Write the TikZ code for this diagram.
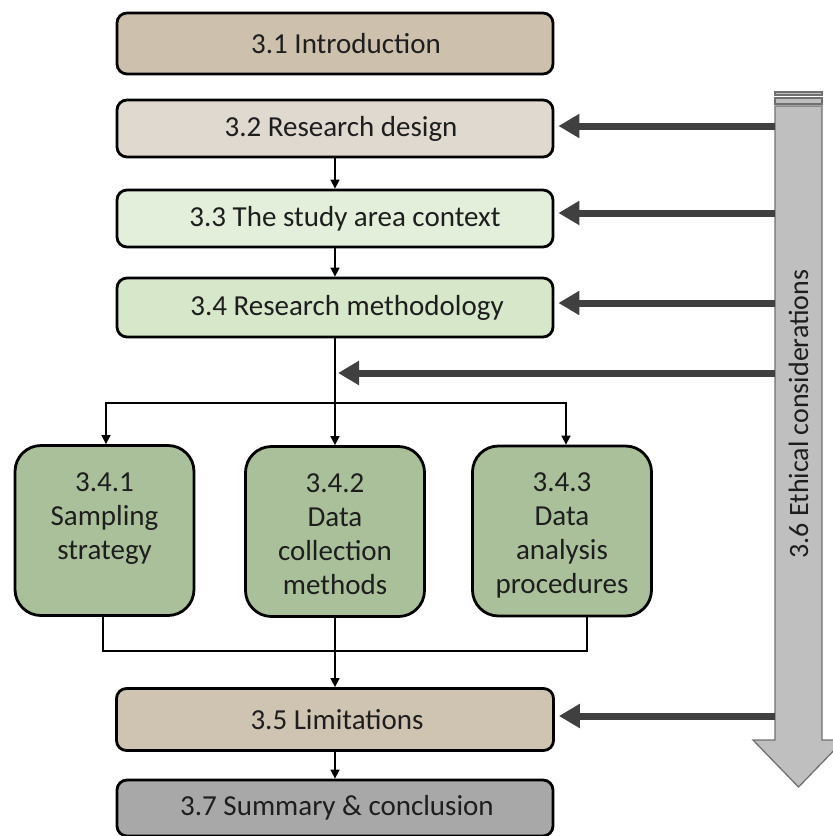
\documentclass[tikz,border=0pt]{standalone}
\usepackage{fontspec}
\setmainfont{Carlito}
\usetikzlibrary{arrows.meta}
\definecolor{introfill}{HTML}{CDC1AE}
\definecolor{designfill}{HTML}{DFD9CF}
\definecolor{areafill}{HTML}{E3EFDA}
\definecolor{methfill}{HTML}{D6E7CA}
\definecolor{sage}{HTML}{A9C09A}
\definecolor{limitfill}{HTML}{CFC4B1}
\definecolor{sumfill}{HTML}{A8A8A8}
\definecolor{bigfill}{HTML}{BFBFBF}
\definecolor{bigdraw}{HTML}{707070}
\definecolor{ethline}{HTML}{404040}
\definecolor{txt}{HTML}{1E1E1E}
\newcommand\strutline[1]{\strut#1}
\newcommand\firstline[1]{\rule{0pt}{34pt}#1}
\begin{document}
\begin{tikzpicture}[x=1pt,y=-1pt,
  box/.style={draw=black, line width=2.8pt, rounded corners=10pt, minimum width=436pt,
    minimum height=58pt, inner sep=0pt, font=\fontsize{29}{34}\selectfont, text=txt},
  sub/.style={box, rounded corners=26pt, minimum width=179pt, minimum height=170pt,
    align=center, fill=sage},
  conn/.style={line width=1.6pt, -{Triangle[length=9pt,width=9pt]}},
  plainline/.style={line width=1.6pt},
  eth/.style={line width=7pt, draw=ethline, -{Triangle[length=21pt,width=23pt]}},
  bigarrow/.style={fill=bigfill, draw=bigdraw, line width=1.3pt}
]
\useasboundingbox (0,0) rectangle (833,836);
\clip (0,0) rectangle (833,836);

% big ethical arrow
\draw[bigarrow] (775,92) rectangle (822,95);
\draw[bigarrow] (775,98) rectangle (822,104);
\draw[bigarrow] (775,106) -- (822,106) -- (822,740) -- (844,740) -- (798.5,787)
  -- (753,740) -- (775,740) -- cycle;
\node[rotate=90, font=\fontsize{28}{34}\selectfont, text=txt] (ethtext) at (798.5,414)
  {3.6 Ethical considerations};

% main boxes
\node[box, fill=introfill, minimum height=61pt] (intro) at (335,43.5) {\hspace*{22pt}3.1 Introduction};
\node[box, fill=designfill, minimum height=57pt] (design) at (335,128.5) {\hspace*{12pt}3.2 Research design};
\node[box, fill=areafill, minimum height=57pt] (area) at (335,218.5) {\hspace*{20pt}3.3 The study area context};
\node[box, fill=methfill, minimum height=59pt] (method) at (335,307.5) {\hspace*{24pt}3.4 Research methodology};

\node[sub] (s1) at (104.5,530.5) {\firstline{3.4.1}\\\strutline{Sampling}\\\strutline{strategy}\\\strutline{}};
\node[sub] (s2) at (335,531.5) {\firstline{3.4.2}\\\strutline{Data}\\\strutline{collection}\\\strutline{methods}};
\node[sub] (s3) at (562,531) {\firstline{3.4.3}\\\strutline{Data}\\\strutline{analysis}\\\strutline{procedures}};

\node[box, fill=limitfill, minimum width=437pt, minimum height=62pt] (limit) at (335,719.5) {\hspace*{4pt}3.5 Limitations};
\node[box, fill=sumfill, minimum height=56pt] (summary) at (335,808) {\hspace*{4pt}3.7 Summary \& conclusion};

% connectors
\draw[conn] (design.south) -- (area.north);
\draw[conn] (area.south) -- (method.north);
\draw[conn] (method.south) -- (s2.north);
\coordinate (br) at (335,403);
\draw[conn] (br) -| ([xshift=1.5pt]s1.north);
\draw[conn] (br) -| ([xshift=4pt]s3.north);
\coordinate (jn) at (335,651);
\draw[plainline] ([xshift=-1.5pt]s1.south) |- ([xshift=25pt]s3.south |- jn) -- ([xshift=25pt]s3.south);
\draw[conn] (s2.south) -- (limit.north);
\draw[conn] (limit.south) -- (summary.north);

% ethical arrows
\coordinate (e1) at (775,126);
\coordinate (e2) at (775,213);
\coordinate (e3) at (775,303);
\coordinate (e4) at (775,373);
\coordinate (e5) at (775,716);
\draw[eth, shorten >=4pt] (e1) -- (e1 -| design.east);
\draw[eth, shorten >=4pt] (e2) -- (e2 -| area.east);
\draw[eth, shorten >=4pt] (e3) -- (e3 -| method.east);
\draw[eth, shorten >=3pt] (e4) -- (e4 -| method.south);
\draw[eth, shorten >=4pt] (e5) -- (e5 -| limit.east);
\end{tikzpicture}
\end{document}
